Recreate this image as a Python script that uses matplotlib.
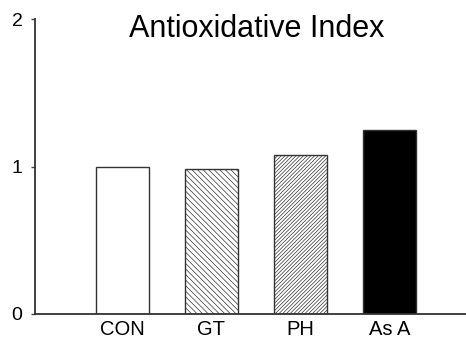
import numpy as np
import matplotlib.pyplot as plt

plt.rcParams['font.family'] = ['Liberation Sans', 'DejaVu Sans']
plt.rcParams['hatch.linewidth'] = 0.5

# Data
groups = ['CON', 'GT', 'PH', 'As A']
index_values = [1.0, 0.985, 1.08, 1.25]
fills = ['white', 'white', 'white', 'black']
hatches = [None, '\\' * 6, '/' * 9, None]

fig = plt.figure(figsize=(4.66, 3.41), dpi=100)
ax = fig.add_axes([35 / 466, 27 / 341, 431 / 466, 295 / 341])

x = np.arange(len(groups))
for xi, v, fc, h in zip(x, index_values, fills, hatches):
    ax.bar(xi, v, width=0.6, color=fc, edgecolor='#333333', linewidth=1.0, hatch=h)

ax.set_xlim(-0.98, 3.86)
ax.set_ylim(0, 2)
ax.set_yticks([0, 1, 2])
ax.set_xticks(x)
ax.set_xticklabels(groups, fontsize=14.5)
ax.tick_params(axis='x', length=0, pad=4)
ax.tick_params(axis='y', length=3, width=1, labelsize=14, pad=6, color='#444444')

ax.spines['top'].set_visible(False)
ax.spines['right'].set_visible(False)
for s in ['left', 'bottom']:
    ax.spines[s].set_color('#333333')
    ax.spines[s].set_linewidth(1.3)

ax.text(0.515, 0.94, 'Antioxidative Index', transform=ax.transAxes,
        ha='center', va='baseline', fontsize=22)

fig.savefig('out.png', dpi=100)
